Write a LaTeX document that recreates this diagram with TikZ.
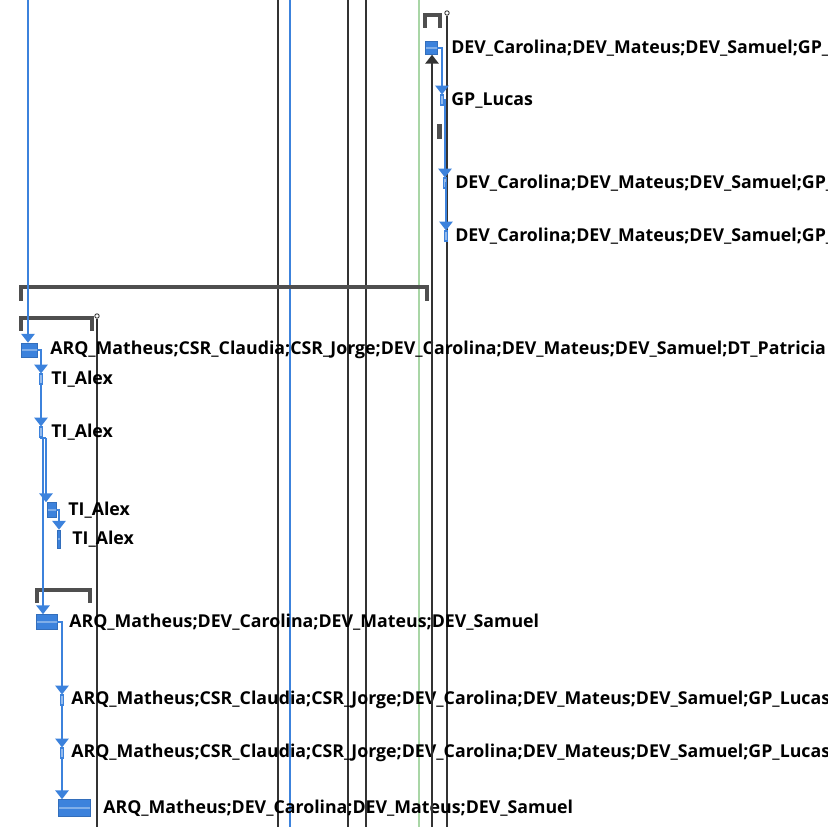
\documentclass[tikz,border=0pt]{standalone}
\usepackage{fontspec}
\setmainfont{Open Sans}
\usetikzlibrary{arrows.meta}
\definecolor{azzurro}{HTML}{3C82DC}
\definecolor{scuro}{HTML}{4F4F4F}
\definecolor{grigio}{HTML}{333333}
\definecolor{verde}{HTML}{A9D6A6}

\begin{document}
\begin{tikzpicture}[x=0.02cm, y=-0.02cm, >={Triangle[width=7.5pt,length=5pt]}]
	\tikzset{
		barra/.style={rectangle, fill=azzurro, draw=azzurro!85!black, line width=0.3pt, inner sep=0pt,
			path picture={\draw[azzurro!65, line width=0.8pt] (path picture bounding box.west) -- (path picture bounding box.east);}},
		tacca/.style={rectangle, fill=azzurro!55, draw=azzurro, line width=0.6pt, inner sep=0pt, minimum width=1.2pt, minimum height=0.2cm},
		etichetta/.style={anchor=west, inner sep=0pt, font=\bfseries\fontsize{10.1}{12}\selectfont},
		legame/.style={draw=azzurro, line width=1pt},
		riga/.style={draw=grigio, line width=0.9pt},
		riepilogo/.style={draw=scuro, line width=2.2pt},
		fine/.style={circle, draw=grigio, fill=white, line width=0.5pt, inner sep=0pt, minimum size=2.5pt}
	}
	\useasboundingbox (0,0) rectangle (828,827);
	\clip (0,0) rectangle (828,827);
	\fill[white] (0,0) rectangle (828,827);

	% linee verticali di fondo
	\draw[riga] (278,0) -- (278,827);
	\draw[legame] (290,0) -- (290,827);
	\draw[riga] (348,0) -- (348,827);
	\draw[riga] (366,0) -- (366,827);
	\draw[draw=verde, line width=0.9pt] (419,0) -- (419,827);

	% riepiloghi
	\draw[riepilogo] (425,28) |- (440,15) -- (440,28);
	\node[fine] (fineA) at (447,13) {};
	\draw[riepilogo] (21,301) |- (427,287) -- (427,301);
	\draw[riepilogo] (21,331) |- (92,318) -- (92,331);
	\node[fine] (fineB) at (97,316) {};
	\draw[riepilogo] (37,603) |- (90,590) -- (90,603);

	\coordinate (fondoA) at (447,827);
	\coordinate (fondoB) at (97,827);
	\coordinate (fondoC) at (432,827);
	\coordinate (cima) at (28,0);
	\draw[riga] (fineA) -- (fondoA);
	\draw[riga] (fineB) -- (fondoB);

	% attivita
	\node[barra, minimum width=0.24cm, minimum height=0.26cm] (b1) at (431,48) {};
	\node[tacca] (m2) at (442,100) {};
	\node[rectangle, fill=scuro, inner sep=0pt, minimum width=0.1cm, minimum height=0.3cm] (g2) at (439.5,132) {};
	\node[tacca] (m3) at (445,183) {};
	\node[tacca] (m4) at (446,236) {};

	\node[barra, minimum width=0.32cm, minimum height=0.28cm] (b5) at (29,350) {};
	\node[tacca] (m6) at (41,379) {};
	\node[tacca] (m7) at (41,432) {};
	\node[barra, minimum width=0.18cm, minimum height=0.3cm] (b8) at (51.5,510) {};
	\node[barra, minimum width=0.07cm, minimum height=0.36cm] (m9) at (59,539) {};
	\node[barra, minimum width=0.42cm, minimum height=0.3cm] (b11) at (46.5,622) {};
	\node[tacca] (m12) at (62,700) {};
	\node[tacca] (m13) at (62,753) {};
	\node[barra, minimum width=0.64cm, minimum height=0.34cm] (b14) at (74,808) {};
	\coordinate (salto7) at (43,438);
	\coordinate (salto8) at (46,438);

	\node[etichetta] (t1) at (451,48) {DEV\_Carolina;DEV\_Mateus;DEV\_Samuel;GP\_Lucas};
	\node[etichetta] (t2) at (451,100) {GP\_Lucas};
	\node[etichetta] (t3) at (455,183) {DEV\_Carolina;DEV\_Mateus;DEV\_Samuel;GP\_Lucas};
	\node[etichetta] (t4) at (455,236) {DEV\_Carolina;DEV\_Mateus;DEV\_Samuel;GP\_Lucas};
	\node[etichetta] (t5) at (50,350) {ARQ\_Matheus;CSR\_Claudia;CSR\_Jorge;DEV\_Carolina;DEV\_Mateus;DEV\_Samuel;DT\_Patricia};
	\node[etichetta] (t6) at (51,379) {TI\_Alex};
	\node[etichetta] (t7) at (51,432) {TI\_Alex};
	\node[etichetta] (t8) at (68,510) {TI\_Alex};
	\node[etichetta] (t9) at (72,539) {TI\_Alex};
	\node[etichetta] (t11) at (69,622) {ARQ\_Matheus;DEV\_Carolina;DEV\_Mateus;DEV\_Samuel};
	\node[etichetta] (t12) at (71,700) {ARQ\_Matheus;CSR\_Claudia;CSR\_Jorge;DEV\_Carolina;DEV\_Mateus;DEV\_Samuel;GP\_Lucas};
	\node[etichetta] (t13) at (71,753) {ARQ\_Matheus;CSR\_Claudia;CSR\_Jorge;DEV\_Carolina;DEV\_Mateus;DEV\_Samuel;GP\_Lucas};
	\node[etichetta] (t14) at (103,808) {ARQ\_Matheus;DEV\_Carolina;DEV\_Mateus;DEV\_Samuel};

	% collegamenti
	\draw[->, grigio, line width=1pt] (fondoC) -- (b1.south -| fondoC);
	\draw[legame, ->] (b1.east) -| (m2.north);
	\draw[legame, ->] (m2.east) -| (m3.north);
	\draw[legame, ->] (m3.east) -| (m4.north);

	\draw[legame, ->] (cima) -- (b5.north -| cima);
	\draw[legame, ->] (b5.east) -| (m6.north);
	\draw[legame, ->] (m6.south) -- (m7.north);
	\draw[legame] (m7.south) |- (salto8);
	\draw[legame, ->] (salto8) -- (b8.north -| salto8);
	\draw[legame, ->] (salto7) -- (b11.north -| salto7);
	\draw[legame, ->] (b8.east) -| (m9.north);
	\draw[legame, ->] (b11.east) -| (m12.north);
	\draw[legame, ->] (m12.south) -- (m13.north);
	\draw[legame, ->] (m13.south) -- (b14.north -| m13.south);
\end{tikzpicture}
\end{document}
